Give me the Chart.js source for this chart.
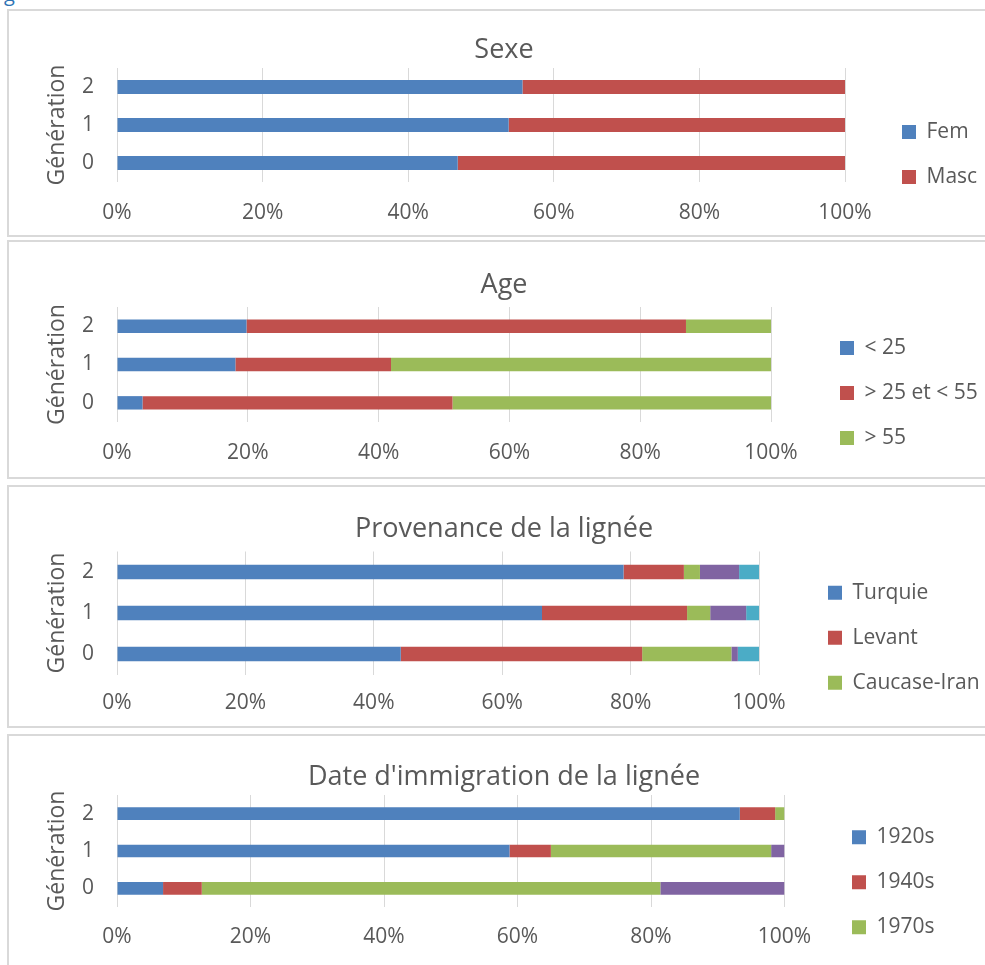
<!DOCTYPE html>
<html><head><meta charset="utf-8">
<script src="https://cdn.jsdelivr.net/npm/chart.js@4.4.1/dist/chart.umd.min.js"></script>
<style>
html,body{margin:0;padding:0;background:#fff;width:985px;height:965px;overflow:hidden;position:relative}
.panel{position:absolute;left:7px;width:1000px;border:2px solid #d9d9d9;box-sizing:border-box}
canvas{position:absolute;left:8px}
#head{position:absolute;left:4px;top:-16px;font:20px/20px 'Open Sans',sans-serif;color:#2e74b5;margin:0}
</style></head><body>
<div id="head">g</div>
<div class="panel" style="top:9px;height:228px"></div>
<div class="panel" style="top:240px;height:239px"></div>
<div class="panel" style="top:485px;height:243px"></div>
<div class="panel" style="top:734px;height:300px"></div>
<canvas id="c1" width="992" height="228" style="top:9px"></canvas>
<canvas id="c2" width="992" height="239" style="top:240px"></canvas>
<canvas id="c3" width="992" height="243" style="top:485px"></canvas>
<canvas id="c4" width="992" height="245" style="top:734px"></canvas>
<script>
// ---- data ----
const generations = ['0', '1', '2'];
const pctTicks = [0, 20, 40, 60, 80, 100];
const pctTickLabels = ['0%', '20%', '40%', '60%', '80%', '100%'];
const axisTitle = 'Génération';

const sexeTitle = 'Sexe';
const sexeLabels = ['Fem', 'Masc'];
const sexeFem = [46.8, 53.8, 55.7];
const sexeMasc = [53.2, 46.2, 44.3];

const ageTitle = 'Age';
const ageLabels = ['< 25', '> 25 et < 55', '> 55'];
const ageMoins25 = [3.9, 18.1, 19.8];
const age25a55 = [47.4, 23.8, 67.2];
const agePlus55 = [48.7, 58.1, 13.0];

const provTitle = 'Provenance de la lignée';
const provLabels = ['Turquie', 'Levant', 'Caucase-Iran', 'Série 4', 'Série 5'];
const provTurquie = [44.2, 66.2, 78.9];
const provLevant = [37.6, 22.6, 9.4];
const provCaucase = [13.9, 3.6, 2.5];
const provSerie4 = [1.0, 5.6, 6.1];
const provSerie5 = [3.3, 2.0, 3.1];

const immTitle = "Date d'immigration de la lignée";
const immLabels = ['1920s', '1940s', '1970s', 'Série 4'];
const imm1920 = [6.9, 58.8, 93.3];
const imm1940 = [5.8, 6.2, 5.3];
const imm1970 = [68.7, 33.0, 1.4];
const immSerie4 = [18.6, 2.0, 0];

const palette = ['#4F81BD', '#C0504D', '#9BBB59', '#8064A2', '#4BACC6'];
const shownLegendItems = 3;

// ---- setup ----
Chart.defaults.font.family = "'Open Sans', sans-serif";
Chart.defaults.color = '#595959';

const legendPlace = {
  id: 'legendPlace',
  afterInit(chart) {
    const lg = chart.legend;
    if (!lg) return;
    const fit = lg.fit.bind(lg);
    lg.fit = function () {
      fit();
      const o = chart.options.plugins.legendPlace;
      if (o) this.width = o.width;
    };
  },
  afterLayout(chart, args, o) {
    const lg = chart.legend;
    if (!lg || !o) return;
    const pad = lg.options.labels.padding;
    lg.left = o.x - pad; lg.right = lg.left + lg.width;
    lg.top = o.y - pad; lg.bottom = lg.top + 400;
  }
};

function makeChart(id, title, labels, series, p) {
  const datasets = series.map((d, i) => ({
    label: labels[i], data: d, backgroundColor: palette[i], borderWidth: 0,
    categoryPercentage: 1, barPercentage: p.bar
  }));
  return new Chart(document.getElementById(id), {
    type: 'bar',
    data: { labels: generations, datasets },
    options: {
      indexAxis: 'y', responsive: false, animation: false,
      layout: { padding: 0 },
      scales: {
        x: {
          stacked: true, min: 0, max: 100,
          afterBuildTicks: s => { s.ticks = pctTicks.map(v => ({ value: v })); },
          afterFit: s => { s.height = p.xh; },
          ticks: { callback: (v, i) => pctTickLabels[i], font: { size: 21 }, padding: p.xpad, maxRotation: 0, color: '#595959' },
          grid: { color: '#d9d9d9', lineWidth: 1, drawTicks: false },
          border: { display: false }
        },
        y: {
          stacked: true, reverse: true,
          afterFit: s => { s.width = 109; },
          ticks: { font: { size: 21 }, padding: 23, color: '#595959' },
          grid: { display: false, drawTicks: false },
          border: { display: false },
          title: { display: true, text: axisTitle, font: { size: 23 }, padding: { top: 36 }, color: '#595959' }
        }
      },
      plugins: {
        title: { display: true, text: title, font: { size: 27, weight: 'normal' }, color: '#595959', padding: { top: p.tt, bottom: p.tb } },
        legend: {
          position: 'right', align: 'start',
          labels: {
            boxWidth: 14, boxHeight: 14, padding: 24, font: { size: 21 }, color: '#595959',
            filter: item => item.datasetIndex < shownLegendItems
          }
        },
        legendPlace: { width: p.lw, x: p.lx, y: p.ly },
        tooltip: { enabled: false }
      }
    },
    plugins: [legendPlace]
  });
}

makeChart('c1', sexeTitle, sexeLabels, [sexeFem, sexeMasc],
  { bar: 0.37, xh: 55, xpad: 18.5, tt: 24.8, tb: 1.8, lw: 155, lx: 894, ly: 112.5 });
makeChart('c2', ageTitle, ageLabels, [ageMoins25, age25a55, agePlus55],
  { bar: 0.35, xh: 57, xpad: 18.5, tt: 28.8, tb: 5.8, lw: 229, lx: 832, ly: 97.5 });
makeChart('c3', provTitle, provLabels, [provTurquie, provLevant, provCaucase, provSerie4, provSerie5],
  { bar: 0.35, xh: 53.5, xpad: 15.5, tt: 27.8, tb: 6.3, lw: 241, lx: 820, ly: 97.2 });
makeChart('c4', immTitle, immLabels, [imm1920, imm1940, imm1970, immSerie4],
  { bar: 0.34, xh: 72, xpad: 17.5, tt: 26.8, tb: 1.8, lw: 215.5, lx: 844, ly: 92.8 });
</script>
</body></html>
